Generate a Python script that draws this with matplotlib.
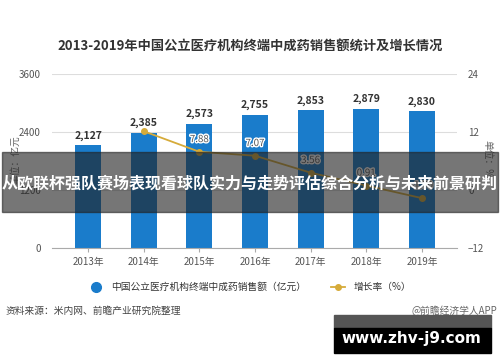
import matplotlib
matplotlib.use("Agg")
import matplotlib.pyplot as plt
import matplotlib.patheffects as pe
from matplotlib.lines import Line2D
from matplotlib.patches import Rectangle
import numpy as np

plt.rcParams['font.family'] = ['Noto Sans CJK SC', 'DejaVu Sans']

# data
years = ['2013年', '2014年', '2015年', '2016年', '2017年', '2018年', '2019年']
sales = [2127, 2385, 2573, 2755, 2853, 2879, 2830]
growth = [np.nan, 12.13, 7.88, 7.07, 3.56, 0.91, -1.70]
left_ticks = [0, 1200, 2400, 3600]
right_ticks = [-12, 0, 12, 24]

bar_color = '#1a7ccb'
line_color = '#d6ab3a'

fig = plt.figure(figsize=(5, 3.62), dpi=100)
ax = fig.add_axes([0.104, 0.315, 0.81, 0.481])
x = np.arange(len(years))

ax.bar(x, sales, width=0.47, color=bar_color, zorder=2)
ax.set_ylim(0, 3600)
ax.set_yticks(left_ticks)
ax.set_xlim(-0.65, 6.63)
ax.set_xticks(x)
ax.set_xticklabels(years)
ax.grid(axis='y', color='#dddddd', linewidth=0.8, zorder=0)
for s in ['top', 'right', 'left']:
    ax.spines[s].set_visible(False)
ax.spines['bottom'].set_color('#aaaaaa')
ax.tick_params(axis='y', length=0, labelsize=7, colors='#555555', pad=8)
ax.tick_params(axis='x', length=3, color='#aaaaaa', labelsize=7, colors='#555555')

for xi, v in zip(x, sales):
    ax.text(xi, v + 90, f'{v:,}', ha='center', va='bottom', fontsize=7.5,
            fontweight='bold', color='#333333')

ax2 = ax.twinx()
ax2.plot(x, growth, color=line_color, linewidth=1.3, marker='o', markersize=4, zorder=3)
ax2.set_ylim(-12, 24)
ax2.set_yticks(right_ticks)
for s in ['top', 'right', 'left', 'bottom']:
    ax2.spines[s].set_visible(False)
ax2.tick_params(axis='y', length=0, labelsize=7, colors='#555555', pad=8)

for xi, g in zip(x[2:], growth[2:]):
    ax2.text(xi, g + 1.6, f'{g:.2f}', ha='center', va='bottom', fontsize=7,
             color='#555555',
             path_effects=[pe.withStroke(linewidth=2, foreground='white')])

fig.text(0.5, 0.87, '2013-2019年中国公立医疗机构终端中成药销售额统计及增长情况',
         ha='center', va='center', fontsize=9.5, fontweight='bold', color='#333333')
fig.text(0.03, 0.56, '单位：亿元', rotation=90, ha='center', va='center',
         fontsize=7, color='#666666')
fig.text(0.975, 0.56, '单位：%', rotation=-90, ha='center', va='center',
         fontsize=7, color='#666666')

handles = [Line2D([], [], marker='o', color=bar_color, linestyle='none', markersize=7),
           Line2D([], [], marker='o', color=line_color, linewidth=1.3, markersize=4)]
fig.legend(handles, ['中国公立医疗机构终端中成药销售额（亿元）', '增长率（%）'],
           loc='center', bbox_to_anchor=(0.5, 0.207), ncol=2, frameon=False,
           fontsize=7, handlelength=1.5, columnspacing=2.5, labelcolor='#333333')

fig.text(0.012, 0.14, '资料来源：米内网、前瞻产业研究院整理', ha='left', va='center',
         fontsize=7, color='#444444')
fig.text(0.995, 0.14, '@前瞻经济学人APP', ha='right', va='center',
         fontsize=7, color='#666666')

# banner overlay
fig.patches.append(Rectangle((0.004, 1 - 212 / 362), 0.992, 60 / 362,
                             transform=fig.transFigure, color='#222222', alpha=0.62,
                             zorder=10))
fig.text(0.5, 1 - 183 / 362, '从欧联杯强队赛场表现看球队实力与走势评估综合分析与未来前景研判',
         ha='center', va='center', fontsize=11.5, fontweight='bold', color='white',
         zorder=11)

# bottom right box
fig.patches.append(Rectangle((334 / 500, 1 - 328 / 362), 157 / 500, 13 / 362,
                             transform=fig.transFigure, color='#555555', zorder=10))
fig.patches.append(Rectangle((334 / 500, 1 - 353 / 362), 157 / 500, 25 / 362,
                             transform=fig.transFigure, color='black', zorder=10))
fig.text(411 / 500, 1 - 339 / 362, 'www.zhv-j9.com', ha='center', va='center',
         fontsize=11, fontweight='bold', color='white', zorder=11,
         family=['DejaVu Sans'])

fig.savefig('out.png', dpi=100, facecolor='white')
